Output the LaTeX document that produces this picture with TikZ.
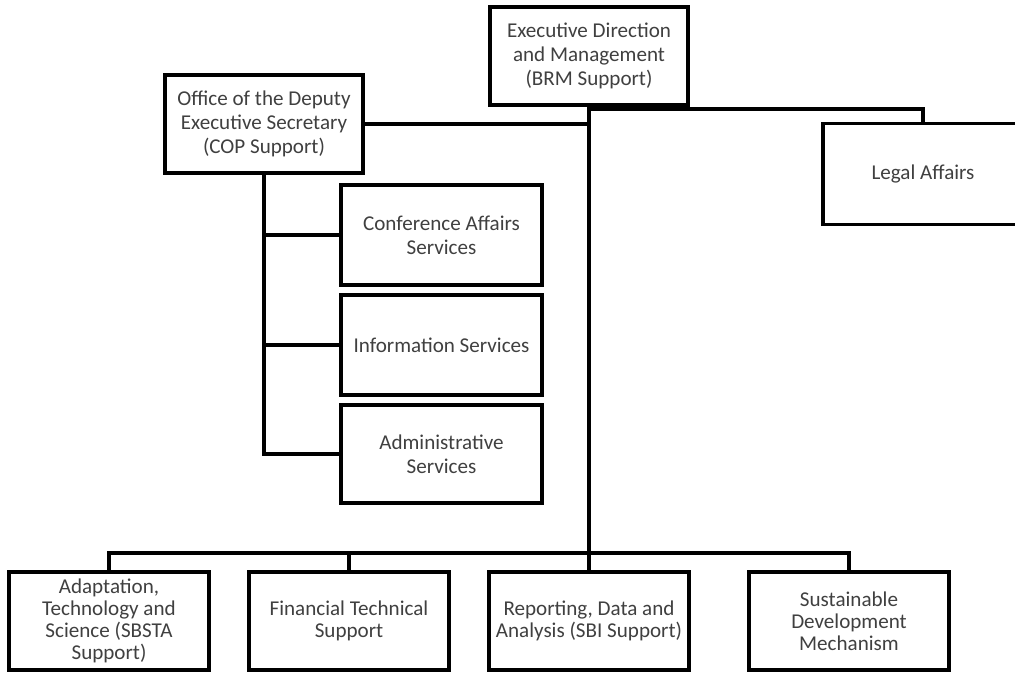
\documentclass[tikz,border=0pt]{standalone}
\usepackage{fontspec}
\setmainfont{Carlito}
\usetikzlibrary{calc}

\begin{document}
\begin{tikzpicture}[line width=2.2pt,
  unit/.style={draw, fill=white, minimum width=3.96cm, minimum height=1.96cm,
    align=center, font=\fontsize{12}{13.6}\selectfont, text=black!75},
  lowunit/.style={unit, minimum width=4cm, font=\fontsize{12}{12.6}\selectfont}]
\useasboundingbox (0,0) rectangle (20.3,-13.5);

\node[unit] (edm) at (11.78,-1.12) {Executive Direction\\and Management\\(BRM Support)};
\node[unit] (odes) at (5.28,-2.48) {Office of the Deputy\\Executive Secretary\\(COP Support)};
\node[unit, minimum width=4cm, minimum height=2.02cm] (legal) at (18.46,-3.48) {Legal Affairs};

\node[unit, minimum width=4.02cm, minimum height=2cm] (conf) at (8.83,-4.70) {Conference Affairs\\Services};
\node[unit, minimum width=4.02cm, minimum height=2cm] (info) at (8.83,-6.90) {Information Services};
\node[unit, minimum width=4.02cm, minimum height=1.96cm] (admin) at (8.83,-9.08) {Administrative\\Services};

\node[lowunit] (atss) at (2.18,-12.42) {Adaptation,\\Technology and\\Science (SBSTA\\Support)};
\node[lowunit] (fts) at (6.98,-12.42) {Financial Technical\\Support};
\node[lowunit] (rda) at (11.78,-12.42) {Reporting, Data and\\Analysis (SBI Support)};
\node[lowunit] (sdm) at (16.98,-12.42) {Sustainable\\Development\\Mechanism};

\coordinate (bus) at (0,-11.06);

% top level
\draw (edm.south) -- (rda.north);
\draw (odes.east) -- (odes.east -| edm.south);
\draw ([yshift=-1pt]edm.south) -| (legal.north);

% deputy secretary
\draw (odes.south) |- (admin.west);
\draw (conf.west) -- (conf.west -| odes.south);
\draw (info.west) -- (info.west -| odes.south);

% programmes
\draw (atss.north) |- (bus -| sdm.north) -- (sdm.north);
\draw (fts.north) -- (fts.north |- bus);
\end{tikzpicture}
\end{document}
